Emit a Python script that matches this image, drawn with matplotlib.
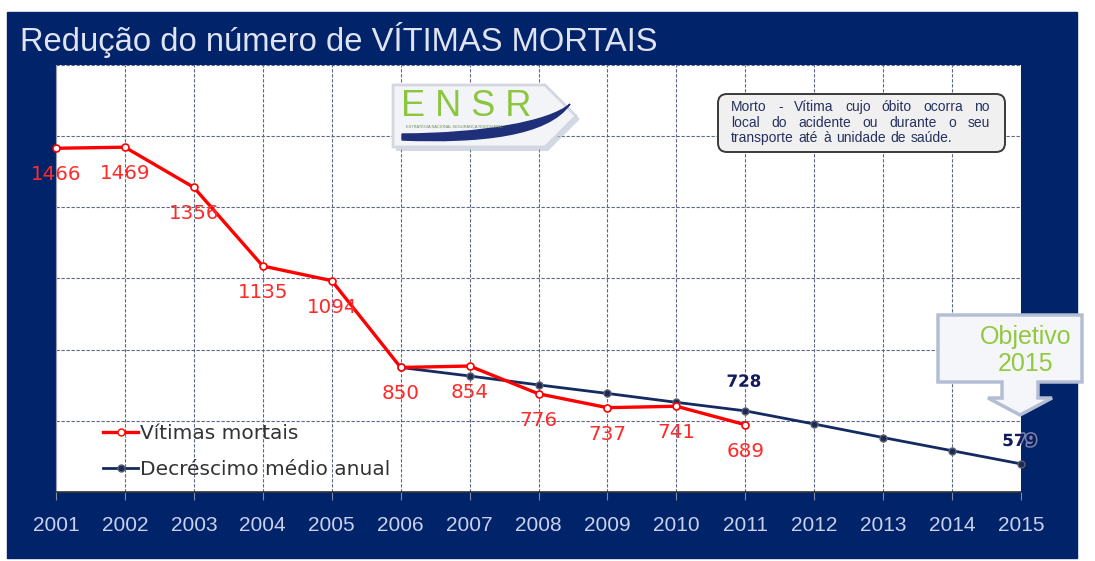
import matplotlib.pyplot as plt
import matplotlib.patheffects as pe
from matplotlib.patches import Rectangle, Polygon, FancyBboxPatch, PathPatch
from matplotlib.path import Path
from matplotlib.lines import Line2D

# dados
anos = list(range(2001, 2016))
anos_vitimas = list(range(2001, 2012))
vitimas = [1466, 1469, 1356, 1135, 1094, 850, 854, 776, 737, 741, 689]
anos_tendencia = list(range(2006, 2016))
tendencia = [850, 826, 801, 777, 752, 728, 691, 653, 616, 579]
tendencia_anos_rotulo = [2011, 2015]
tendencia_rotulos = [728, 579]

W, H = 1095, 561
NAVY = '#012369'

fig = plt.figure(figsize=(W / 100, H / 100), dpi=100)
fig.patch.set_facecolor('white')

# fundo azul
bg = fig.add_axes([0, 0, 1, 1], zorder=0)
bg.set_xlim(0, W)
bg.set_ylim(H, 0)
bg.axis('off')
bg.add_patch(Rectangle((7, 12), 1070, 546, color=NAVY))
bg.text(20, 40, 'Redução do número de VÍTIMAS MORTAIS', color='#dfe3f2',
        fontsize=23.6, family='Liberation Sans', va='center', ha='left')

# grafico principal
x0, x1, y0, y1 = 56, 1021, 65, 492
ax = fig.add_axes([x0 / W, 1 - y1 / H, (x1 - x0) / W, (y1 - y0) / H], zorder=1)
ax.set_facecolor('white')
ax.set_xlim(2001, 2015)
ax.set_ylim(500, 1700)
ax.set_xticks(anos)
ax.set_yticks(range(500, 1701, 200))
ax.set_yticklabels([])
ax.tick_params(axis='y', length=0)
ax.tick_params(axis='x', colors='#7f8aa8', length=6, pad=11, labelcolor='#c9d1ec',
               labelsize=15)
for lab in ax.get_xticklabels():
    lab.set_family('Liberation Sans')
ax.grid(True, color='#5f6787', linestyle=(0, (3, 1.5)), linewidth=0.8)
for s in ['top', 'right']:
    ax.spines[s].set_visible(False)
ax.spines['left'].set_color('#9aa0b0')
ax.spines['bottom'].set_color('#333333')
ax.spines['bottom'].set_linewidth(1.2)

ax.plot(anos_tendencia, tendencia, color='#142a62', lw=2, marker='o', ms=5,
        mfc='#1c2a55', mec='#5a6070', mew=1, zorder=3, clip_on=False)
ax.plot(anos_vitimas, vitimas, color='#ff0000', lw=2.4, marker='o', ms=5,
        mfc='white', mec='#ff0000', mew=1.2, zorder=4, clip_on=False)

for a, v in zip(anos_vitimas, vitimas):
    ax.annotate(str(v), (a, v), xytext=(0, -19), textcoords='offset points',
                ha='center', va='center', color='#ff2a2a', fontsize=14.3,
                family='DejaVu Sans', zorder=5, annotation_clip=False, clip_on=False)
for a, v, dy in zip(tendencia_anos_rotulo, tendencia_rotulos, [21, 16.5]):
    ax.annotate(str(v), (a, v), xytext=(-1, dy), textcoords='offset points',
                ha='center', va='center', color='#141a5e', fontsize=12,
                fontweight='bold', family='DejaVu Sans', zorder=5,
                annotation_clip=False, clip_on=False,
                path_effects=[pe.withStroke(linewidth=2.2, foreground='white', alpha=0.45)])

h1 = Line2D([], [], color='#ff0000', lw=2.4, marker='o', ms=5, mfc='white', mec='#ff0000')
h2 = Line2D([], [], color='#142a62', lw=2, marker='o', ms=5, mfc='#1c2a55', mec='#5a6070')
leg = ax.legend([h1, h2], ['Vítimas mortais', 'Decréscimo médio anual'],
                loc='upper left', bbox_to_anchor=(85 / W, 1 - 406 / H),
                bbox_transform=fig.transFigure, frameon=False,
                handlelength=1.75, handletextpad=0.1, labelspacing=0.85,
                prop={'family': 'DejaVu Sans', 'size': 14.5})
for t in leg.get_texts():
    t.set_color('#333333')

# sobreposicoes (logotipo, nota, chamada)
ov = fig.add_axes([0, 0, 1, 1], zorder=3)
ov.set_xlim(0, W)
ov.set_ylim(H, 0)
ov.axis('off')
ov.patch.set_alpha(0)

# logotipo ENSR
ov.add_patch(Polygon([(396, 88), (548, 88), (580, 119), (548, 151), (396, 151)],
                     closed=True, fc='#b5bfd3', ec='none', alpha=0.6))
ov.add_patch(Polygon([(393, 85), (545, 85), (576, 116), (545, 147), (393, 147)],
                     closed=True, fc='#f3f4f7', ec='#d2d7e2', lw=2))
road = Path([(402, 140), (480, 143), (548, 136), (570, 104),
             (550, 122), (480, 134), (402, 134), (402, 140)],
            [Path.MOVETO, Path.CURVE4, Path.CURVE4, Path.CURVE4,
             Path.CURVE4, Path.CURVE4, Path.CURVE4, Path.CLOSEPOLY])
ov.add_patch(PathPatch(road, fc='#1f2f7a', ec='#1f2f7a', lw=1))
ov.text(466, 106, 'E N S R', color='#8cc63f', fontsize=26, family='Liberation Sans',
        ha='center', va='center')
ov.text(406, 127, 'ESTRATÉGIA NACIONAL SEGURANÇA RODOVIÁRIA', color='#6a8a5a',
        fontsize=2.8, family='Liberation Sans', ha='left', va='center')

# nota
ov.add_patch(FancyBboxPatch((718, 94), 287, 58, boxstyle='round,pad=0,rounding_size=9',
                            fc='#f0f0f0', ec='#3a3a3a', lw=1.4))
nota = ['Morto - Vítima cujo óbito ocorra no',
        'local do acidente ou durante o seu',
        'transporte até à unidade de saúde.']
renderer = fig.canvas.get_renderer()
nx0, nx1 = 731, 990
for i, linha in enumerate(nota):
    palavras = linha.split(' ')
    textos = [ov.text(0, 107 + i * 15.5, p, color='#27315f', fontsize=10,
                      family='Liberation Sans', ha='left', va='center')
              for p in palavras]
    larguras = [t.get_window_extent(renderer).width for t in textos]
    if i < len(nota) - 1:
        esp = (nx1 - nx0 - sum(larguras)) / (len(palavras) - 1)
    else:
        esp = 5
    x = nx0
    for t, w in zip(textos, larguras):
        t.set_x(x)
        x += w + esp

# chamada Objetivo 2015
seta = [(938, 315), (1082, 315), (1082, 382), (1038, 382), (1038, 398), (1052, 398),
        (1020, 415), (988, 398), (1002, 398), (1002, 382), (938, 382)]
ov.add_patch(Polygon(seta, closed=True, fc='#f5f6f9', ec='#b3bdd3', lw=2.5))
ov.text(1026, 337, 'Objetivo', color='#92c83e', fontsize=18,
        family='Liberation Sans', ha='center', va='center')
ov.text(1026, 364, '2015', color='#92c83e', fontsize=18,
        family='Liberation Sans', ha='center', va='center')

fig.savefig('out.png', dpi=100, facecolor=fig.get_facecolor())
